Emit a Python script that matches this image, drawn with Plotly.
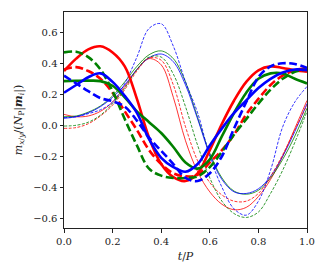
import plotly.graph_objects as go

# Time grid (t/P)
t = [0.00, 0.05, 0.10, 0.15, 0.20, 0.25, 0.30, 0.35, 0.40, 0.45, 0.50,
     0.55, 0.60, 0.65, 0.70, 0.75, 0.80, 0.85, 0.90, 0.95, 1.00]

# Thick solid curves
red_thick_solid = [0.35, 0.43, 0.49, 0.51, 0.47, 0.38, 0.17, -0.08, -0.25, -0.335, -0.36,
                   -0.31, -0.16, 0.01, 0.16, 0.28, 0.355, 0.38, 0.37, 0.355, 0.345]
green_thick_solid = [0.285, 0.287, 0.288, 0.285, 0.255, 0.18, 0.09, 0.02, -0.05, -0.14, -0.24,
                     -0.28, -0.22, -0.07, 0.08, 0.21, 0.30, 0.335, 0.335, 0.30, 0.27]
blue_thick_solid = [0.21, 0.26, 0.31, 0.335, 0.28, 0.19, 0.08, -0.09, -0.21, -0.27, -0.30,
                    -0.25, -0.13, -0.02, 0.08, 0.16, 0.24, 0.30, 0.34, 0.36, 0.355]

# Thick dashed curves
red_thick_dashed = [0.36, 0.375, 0.35, 0.30, 0.21, 0.09, -0.03, -0.16, -0.25, -0.31, -0.33,
                    -0.32, -0.24, -0.16, -0.06, 0.07, 0.17, 0.26, 0.32, 0.355, 0.37]
green_thick_dashed = [0.47, 0.475, 0.44, 0.36, 0.22, 0.04, -0.13, -0.28, -0.325, -0.34, -0.34,
                      -0.33, -0.27, -0.17, -0.06, 0.04, 0.14, 0.23, 0.30, 0.345, 0.36]
blue_thick_dashed = [0.32, 0.27, 0.22, 0.175, 0.155, 0.12, 0.03, -0.08, -0.165, -0.25, -0.34,
                     -0.36, -0.31, -0.20, -0.02, 0.15, 0.31, 0.38, 0.40, 0.395, 0.37]

# Thin solid curves
red_thin_solid = [0.07, 0.055, 0.06, 0.09, 0.15, 0.25, 0.36, 0.43, 0.39, 0.18, -0.10,
                  -0.30, -0.43, -0.51, -0.545, -0.53, -0.46, -0.35, -0.20, -0.02, 0.16]
green_thin_solid = [0.055, 0.06, 0.085, 0.125, 0.19, 0.28, 0.38, 0.455, 0.48, 0.43, 0.28,
                    0.05, -0.18, -0.34, -0.425, -0.445, -0.42, -0.34, -0.22, -0.07, 0.11]
blue_thin_solid = [0.045, 0.055, 0.08, 0.12, 0.18, 0.26, 0.36, 0.435, 0.46, 0.41, 0.26,
                   0.04, -0.19, -0.35, -0.43, -0.44, -0.41, -0.33, -0.20, -0.04, 0.14]

# Thin dashed curves
red_thin_dashed = [-0.02, -0.015, 0.01, 0.06, 0.13, 0.23, 0.35, 0.435, 0.42, 0.26, -0.01,
                   -0.23, -0.37, -0.45, -0.49, -0.49, -0.44, -0.33, -0.19, -0.03, 0.13]
green_thin_dashed = [-0.005, 0.0, 0.02, 0.065, 0.14, 0.24, 0.36, 0.44, 0.44, 0.33, 0.12,
                     -0.13, -0.34, -0.49, -0.57, -0.595, -0.56, -0.44, -0.29, -0.11, 0.09]
blue_thin_dashed = [0.05, 0.055, 0.075, 0.10, 0.15, 0.27, 0.44, 0.625, 0.655, 0.51, 0.28,
                    0.08, -0.20, -0.40, -0.54, -0.58, -0.49, -0.29, -0.01, 0.15, 0.25]

x_ticks = [0.0, 0.2, 0.4, 0.6, 0.8, 1.0]
x_tick_text = ["0.0", "0.2", "0.4", "0.6", "0.8", "1.0"]
y_ticks = [-0.6, -0.4, -0.2, 0.0, 0.2, 0.4, 0.6]
y_tick_text = ["\u22120.6", "\u22120.4", "\u22120.2", "0.0", "0.2", "0.4", "0.6"]

RED, GREEN, BLUE = "#ff0000", "#008000", "#0000ff"
THIN_W, THICK_W = 0.8, 2.6
THIN_DASH, THICK_DASH = "3px,1.5px", "8px,3.5px"

fig = go.Figure()

thin = [
    (red_thin_solid, RED, "solid"), (green_thin_solid, GREEN, "solid"), (blue_thin_solid, BLUE, "solid"),
    (red_thin_dashed, RED, THIN_DASH), (green_thin_dashed, GREEN, THIN_DASH), (blue_thin_dashed, BLUE, THIN_DASH),
]
thick = [
    (red_thick_solid, RED, "solid"), (red_thick_dashed, RED, THICK_DASH),
    (green_thick_solid, GREEN, "solid"), (green_thick_dashed, GREEN, THICK_DASH),
    (blue_thick_solid, BLUE, "solid"), (blue_thick_dashed, BLUE, THICK_DASH),
]
for ys, c, d in thin:
    fig.add_trace(go.Scatter(x=t, y=ys, mode="lines", hoverinfo="skip",
                             line=dict(color=c, width=THIN_W, dash=d, shape="spline", smoothing=1.0)))
for ys, c, d in thick:
    fig.add_trace(go.Scatter(x=t, y=ys, mode="lines", hoverinfo="skip",
                             line=dict(color=c, width=THICK_W, dash=d, shape="spline", smoothing=1.0)))

axis_common = dict(showline=True, linecolor="#222222", linewidth=1, mirror=True,
                   ticks="outside", ticklen=3.5, tickwidth=0.8, tickcolor="#222222",
                   showgrid=False, zeroline=False, automargin=False,
                   tickfont=dict(family="DejaVu Serif", size=10, color="#222222"))

fig.update_layout(
    width=327, height=276,
    margin=dict(l=64, r=20, t=12, b=48, autoexpand=False),
    paper_bgcolor="white", plot_bgcolor="white",
    showlegend=False,
    xaxis=dict(range=[0, 1], tickvals=x_ticks, ticktext=x_tick_text,
               title=dict(text="<i>t</i>/<i>P</i>", font=dict(family="DejaVu Serif", size=11, color="#222222"),
                          standoff=6),
               **axis_common),
    yaxis=dict(range=[-0.663, 0.731], tickvals=y_ticks, ticktext=y_tick_text,
               title=dict(text="<i>m</i><sub><i>x</i>/<i>y</i></sub>/(<i>N</i><sub>P</sub>|<b><i>m</i></b><sub><i>i</i></sub>|)",
                          font=dict(family="DejaVu Serif", size=11, color="#222222"), standoff=8),
               **axis_common),
)

fig.write_html("out.html", config={"displayModeBar": False},
               post_script="document.body.style.margin='0px';document.body.style.padding='0px';")
